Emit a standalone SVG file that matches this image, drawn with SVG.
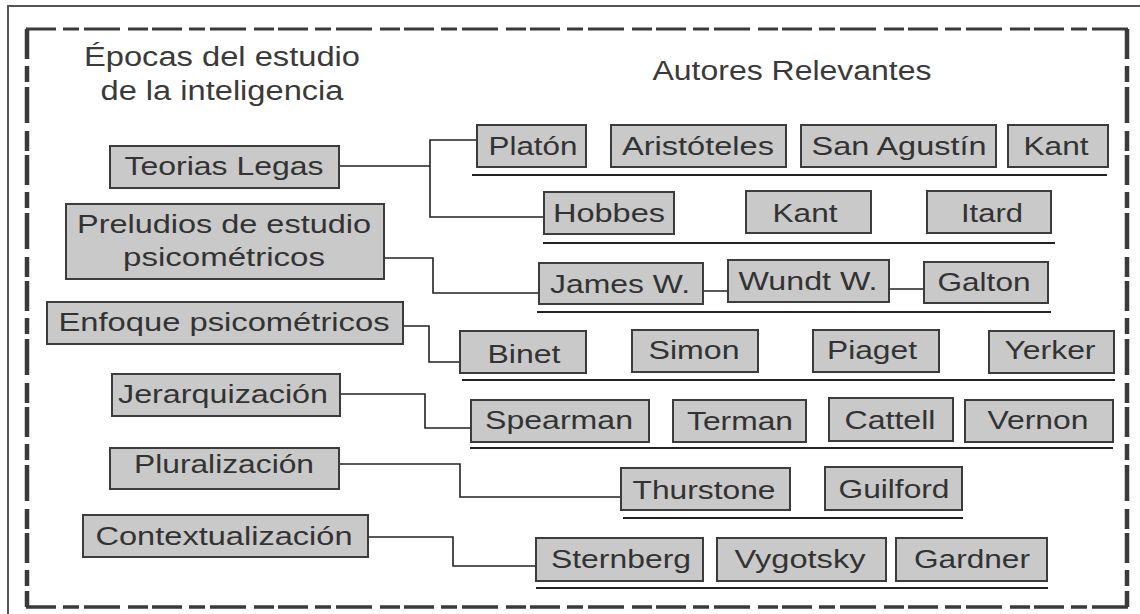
<svg xmlns="http://www.w3.org/2000/svg" width="1140" height="614" viewBox="0 0 1140 614">
<style>
.bx{fill:#c9c9c9;stroke:#3c3c3c;stroke-width:2}
.t{font-family:"Liberation Sans",Arial,sans-serif;font-size:26px;fill:#333;text-anchor:middle}
.h{font-family:"Liberation Sans",Arial,sans-serif;font-size:27px;fill:#3a3a3a;text-anchor:middle}
.ul{stroke:#222;stroke-width:2;fill:none}
.cn{stroke:#222;stroke-width:1.6;fill:none}
.fr{fill:none;stroke:#3a3a3a;stroke-dasharray:30 7 16 5 36 8 20 4}
</style>
<rect width="1140" height="614" fill="#fff"/>
<path d="M8,614 V6 H1140" fill="none" stroke="#555" stroke-width="2"/>
<g id="frame">
<path class="fr" d="M26,29 H1128" stroke-width="3"/>
<path class="fr" d="M26,607 H1128" stroke-width="3.5"/>
<path class="fr" d="M27,29 V607" stroke-width="4.5"/>
<path class="fr" d="M1127,29 V607" stroke-width="4.5"/>
</g>

<g id="headings">
<text class="h" x="222" y="66" textLength="276" lengthAdjust="spacingAndGlyphs">Épocas del estudio</text>
<text class="h" x="222" y="100" textLength="243" lengthAdjust="spacingAndGlyphs">de la inteligencia</text>
<text class="h" x="792" y="80" textLength="279" lengthAdjust="spacingAndGlyphs">Autores Relevantes</text>
</g>

<g id="connectors">
<path class="cn" d="M339,166 H430 M477,140 H430 V217 H544"/>
<path class="cn" d="M384,258 H433 V293 H539"/>
<path class="cn" d="M703,291 H728 M889,289 H924"/>
<path class="cn" d="M403,326 H429 V362 H460"/>
<path class="cn" d="M340,394 H425 V428 H471"/>
<path class="cn" d="M339,464 H460 V497 H621"/>
<path class="cn" d="M368,537 H453 V566 H536"/>
</g>

<g id="underlines">
<path class="ul" d="M472,175 H1107"/>
<path class="ul" d="M543,243 H1055"/>
<path class="ul" d="M537,312 H1051"/>
<path class="ul" d="M462,380 H1115"/>
<path class="ul" d="M470,448 H1113"/>
<path class="ul" d="M623,518 H963"/>
<path class="ul" d="M536,588 H1048"/>
</g>

<g id="teorias-legas"><rect class="bx" x="110" y="146" width="229" height="42"/><text class="t" x="224" y="175" textLength="199" lengthAdjust="spacingAndGlyphs">Teorias Legas</text></g>
<g id="preludios"><rect class="bx" x="66" y="204" width="318" height="75"/><text class="t" x="224" y="233" textLength="294" lengthAdjust="spacingAndGlyphs">Preludios de estudio</text><text class="t" x="224" y="266" textLength="202" lengthAdjust="spacingAndGlyphs">psicométricos</text></g>
<g id="enfoque"><rect class="bx" x="47" y="302" width="356" height="42"/><text class="t" x="224" y="331" textLength="331" lengthAdjust="spacingAndGlyphs">Enfoque psicométricos</text></g>
<g id="jerarquizacion"><rect class="bx" x="112" y="374" width="228" height="42"/><text class="t" x="223" y="403" textLength="210" lengthAdjust="spacingAndGlyphs">Jerarquización</text></g>
<g id="pluralizacion"><rect class="bx" x="110" y="448" width="229" height="41"/><text class="t" x="224" y="473" textLength="180" lengthAdjust="spacingAndGlyphs">Pluralización</text></g>
<g id="contextualizacion"><rect class="bx" x="83" y="515" width="285" height="42"/><text class="t" x="224" y="545" textLength="257" lengthAdjust="spacingAndGlyphs">Contextualización</text></g>

<g id="platon"><rect class="bx" x="477" y="125" width="109" height="42"/><text class="t" x="533" y="155" textLength="89" lengthAdjust="spacingAndGlyphs">Platón</text></g>
<g id="aristoteles"><rect class="bx" x="611" y="125" width="175" height="42"/><text class="t" x="698" y="155" textLength="152" lengthAdjust="spacingAndGlyphs">Aristóteles</text></g>
<g id="san-agustin"><rect class="bx" x="801" y="125" width="195" height="42"/><text class="t" x="899" y="155" textLength="175" lengthAdjust="spacingAndGlyphs">San Agustín</text></g>
<g id="kant-1"><rect class="bx" x="1008" y="125" width="100" height="42"/><text class="t" x="1056" y="155" textLength="65" lengthAdjust="spacingAndGlyphs">Kant</text></g>

<g id="hobbes"><rect class="bx" x="544" y="192" width="130" height="42"/><text class="t" x="609" y="222" textLength="112" lengthAdjust="spacingAndGlyphs">Hobbes</text></g>
<g id="kant-2"><rect class="bx" x="746" y="191" width="125" height="42"/><text class="t" x="805" y="222" textLength="65" lengthAdjust="spacingAndGlyphs">Kant</text></g>
<g id="itard"><rect class="bx" x="927" y="191" width="124" height="42"/><text class="t" x="992" y="222" textLength="62" lengthAdjust="spacingAndGlyphs">Itard</text></g>

<g id="james"><rect class="bx" x="539" y="263" width="164" height="41"/><text class="t" x="620" y="293" textLength="140" lengthAdjust="spacingAndGlyphs">James W.</text></g>
<g id="wundt"><rect class="bx" x="728" y="260" width="161" height="42"/><text class="t" x="808" y="290" textLength="139" lengthAdjust="spacingAndGlyphs">Wundt W.</text></g>
<g id="galton"><rect class="bx" x="924" y="262" width="124" height="41"/><text class="t" x="984" y="291" textLength="93" lengthAdjust="spacingAndGlyphs">Galton</text></g>

<g id="binet"><rect class="bx" x="460" y="331" width="126" height="42"/><text class="t" x="524" y="363" textLength="73" lengthAdjust="spacingAndGlyphs">Binet</text></g>
<g id="simon"><rect class="bx" x="632" y="330" width="126" height="42"/><text class="t" x="694" y="359" textLength="91" lengthAdjust="spacingAndGlyphs">Simon</text></g>
<g id="piaget"><rect class="bx" x="813" y="330" width="126" height="42"/><text class="t" x="872" y="359" textLength="90" lengthAdjust="spacingAndGlyphs">Piaget</text></g>
<g id="yerker"><rect class="bx" x="989" y="331" width="125" height="42"/><text class="t" x="1050" y="359" textLength="91" lengthAdjust="spacingAndGlyphs">Yerker</text></g>

<g id="spearman"><rect class="bx" x="471" y="400" width="178" height="42"/><text class="t" x="559" y="429" textLength="148" lengthAdjust="spacingAndGlyphs">Spearman</text></g>
<g id="terman"><rect class="bx" x="673" y="400" width="133" height="42"/><text class="t" x="740" y="430" textLength="106" lengthAdjust="spacingAndGlyphs">Terman</text></g>
<g id="cattell"><rect class="bx" x="829" y="398" width="124" height="43"/><text class="t" x="890" y="429" textLength="91" lengthAdjust="spacingAndGlyphs">Cattell</text></g>
<g id="vernon"><rect class="bx" x="965" y="400" width="148" height="42"/><text class="t" x="1038" y="429" textLength="101" lengthAdjust="spacingAndGlyphs">Vernon</text></g>

<g id="thurstone"><rect class="bx" x="621" y="468" width="169" height="42"/><text class="t" x="704" y="499" textLength="143" lengthAdjust="spacingAndGlyphs">Thurstone</text></g>
<g id="guilford"><rect class="bx" x="825" y="467" width="137" height="43"/><text class="t" x="894" y="498" textLength="111" lengthAdjust="spacingAndGlyphs">Guilford</text></g>

<g id="sternberg"><rect class="bx" x="536" y="538" width="167" height="43"/><text class="t" x="621" y="568" textLength="140" lengthAdjust="spacingAndGlyphs">Sternberg</text></g>
<g id="vygotsky"><rect class="bx" x="717" y="538" width="169" height="43"/><text class="t" x="800" y="568" textLength="131" lengthAdjust="spacingAndGlyphs">Vygotsky</text></g>
<g id="gardner"><rect class="bx" x="896" y="538" width="151" height="43"/><text class="t" x="972" y="568" textLength="116" lengthAdjust="spacingAndGlyphs">Gardner</text></g>
</svg>
